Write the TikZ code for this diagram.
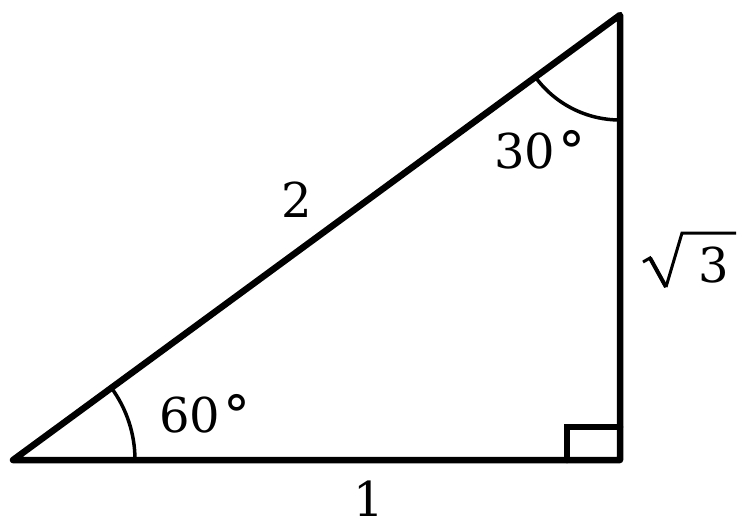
\documentclass[tikz,border=0pt]{standalone}
\usepackage{fontspec}
\setmainfont{DejaVu Serif}
\usetikzlibrary{calc}
\newcommand{\degsym}{\kern3pt{\fontsize{54}{56}\selectfont\raisebox{-2pt}{°}}}
\begin{document}
\begin{tikzpicture}[x=1pt,y=1pt,
  side/.style={line width=6.5pt,line join=round,line cap=round},
  anglearc/.style={line width=3.5pt},
  radical/.style={line width=3pt,line join=miter},
  lbl/.style={inner sep=0pt,font=\fontsize{48}{52}\selectfont}]
\useasboundingbox (0,0) rectangle (749,531);
\coordinate (A) at (13,71);
\coordinate (B) at (620,71);
\coordinate (C) at (620,516);
% angle arcs
\draw[anglearc] ($(A)+(122,0)$) arc[start angle=0,end angle=36.24,radius=122];
\draw[anglearc] ($(C)+(216.24:105)$) arc[start angle=216.24,end angle=270,radius=105];
% right angle box
\coordinate (R1) at (567,71);
\coordinate (R2) at (567,104);
\coordinate (R3) at (620,104);
\draw[side,line join=miter] (R1) -- (R2) -- (R3);
% triangle
\draw[side] (A) -- (B) -- (C) -- cycle;
% labels
\node[lbl] (l30) at (540,381) {30\degsym};
\node[lbl] (l60) at (205,117) {60\degsym};
\node[lbl] (l2) at (297,331) {2};
\node[lbl] (l1) at (369,32) {1};
\node[lbl] (l3) at (714,266) {3};
% radical sign
\coordinate (q1) at (643,269);
\coordinate (q2) at (650,273);
\coordinate (q3) at (666,244);
\coordinate (q4) at (682,298);
\coordinate (q5) at (736,298);
\draw[radical] (q1) -- (q2) -- (q3);
\draw[line width=4pt] (q2) -- (q3);
\draw[radical] (q3) -- (q4) -- (q5);
\end{tikzpicture}
\end{document}
